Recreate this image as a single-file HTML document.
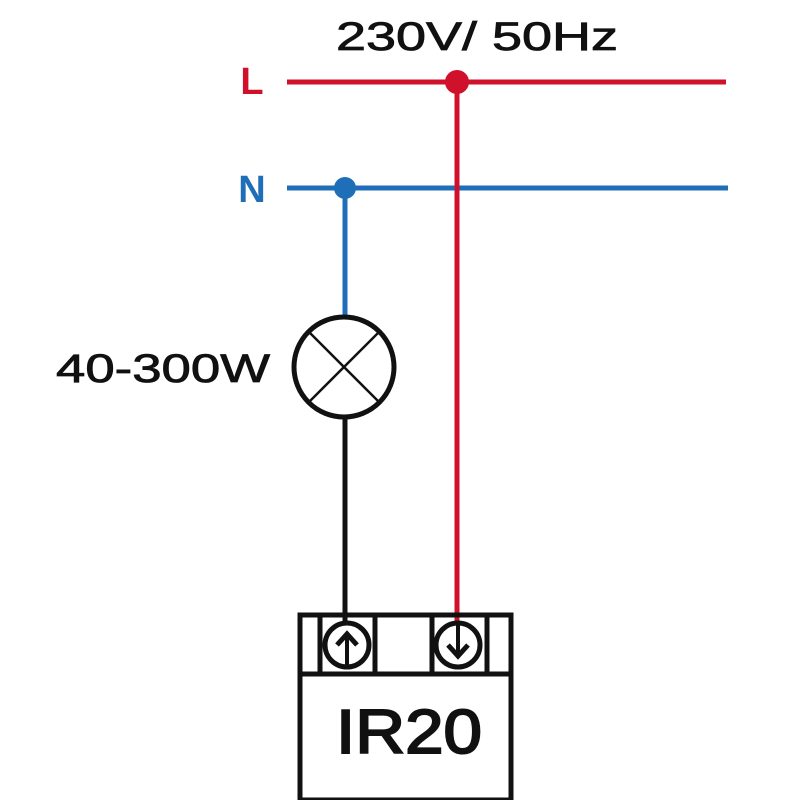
<!DOCTYPE html>
<html><head><style>body{margin:0;background:#fff}svg{display:block}</style></head><body>
<svg width="800" height="800" viewBox="0 0 800 800" xmlns="http://www.w3.org/2000/svg" font-family="Liberation Sans, sans-serif">
<rect width="800" height="800" fill="#fff"/>
<text x="336" y="50" font-size="40" textLength="282" lengthAdjust="spacingAndGlyphs" fill="#111" stroke="#111" stroke-width="0.8">230V/ 50Hz</text>
<text x="252" y="94" font-size="38" font-weight="bold" text-anchor="middle" fill="#d0112b">L</text>
<text x="252" y="202" font-size="38" font-weight="bold" text-anchor="middle" fill="#1f6fb8">N</text>
<text x="56" y="382" font-size="40" textLength="214" lengthAdjust="spacingAndGlyphs" fill="#111" stroke="#111" stroke-width="0.8">40-300W</text>
<line x1="287" y1="82" x2="726" y2="82" stroke="#d0112b" stroke-width="5"/>
<line x1="287" y1="188" x2="728" y2="188" stroke="#1f6fb8" stroke-width="5"/>
<line x1="345" y1="188" x2="345" y2="318" stroke="#1f6fb8" stroke-width="5"/>
<circle cx="345" cy="188" r="11" fill="#1f6fb8"/>
<line x1="457" y1="82" x2="457" y2="630" stroke="#d0112b" stroke-width="5"/>
<circle cx="457" cy="82" r="12" fill="#d0112b"/>
<circle cx="344" cy="367" r="50" fill="none" stroke="#111" stroke-width="5"/>
<line x1="309" y1="332" x2="379" y2="402" stroke="#111" stroke-width="2.5"/>
<line x1="379" y1="332" x2="309" y2="402" stroke="#111" stroke-width="2.5"/>
<line x1="345" y1="417" x2="345" y2="632" stroke="#111" stroke-width="5"/>
<rect x="300" y="615" width="211" height="185" fill="none" stroke="#111" stroke-width="5"/>
<line x1="300" y1="674" x2="511" y2="674" stroke="#111" stroke-width="5"/>
<g stroke="#111" stroke-width="5">
<line x1="320" y1="615" x2="320" y2="674"/><line x1="375" y1="615" x2="375" y2="674"/>
<line x1="432" y1="615" x2="432" y2="674"/><line x1="487" y1="615" x2="487" y2="674"/>
</g>
<circle cx="347" cy="645" r="22" fill="#fff" stroke="#111" stroke-width="5"/>
<circle cx="458" cy="645" r="22" fill="#fff" stroke="#111" stroke-width="5"/>
<line x1="347" y1="633" x2="347" y2="667" stroke="#111" stroke-width="4"/>
<polyline points="337,645 347,634 357,645" fill="none" stroke="#111" stroke-width="5"/>
<line x1="458" y1="623" x2="458" y2="655" stroke="#111" stroke-width="4"/>
<polyline points="448,645 458,656 468,645" fill="none" stroke="#111" stroke-width="5"/>
<text x="336" y="753" font-size="62" textLength="146" lengthAdjust="spacingAndGlyphs" fill="#111" stroke="#111" stroke-width="2">IR20</text>
</svg>
</body></html>
